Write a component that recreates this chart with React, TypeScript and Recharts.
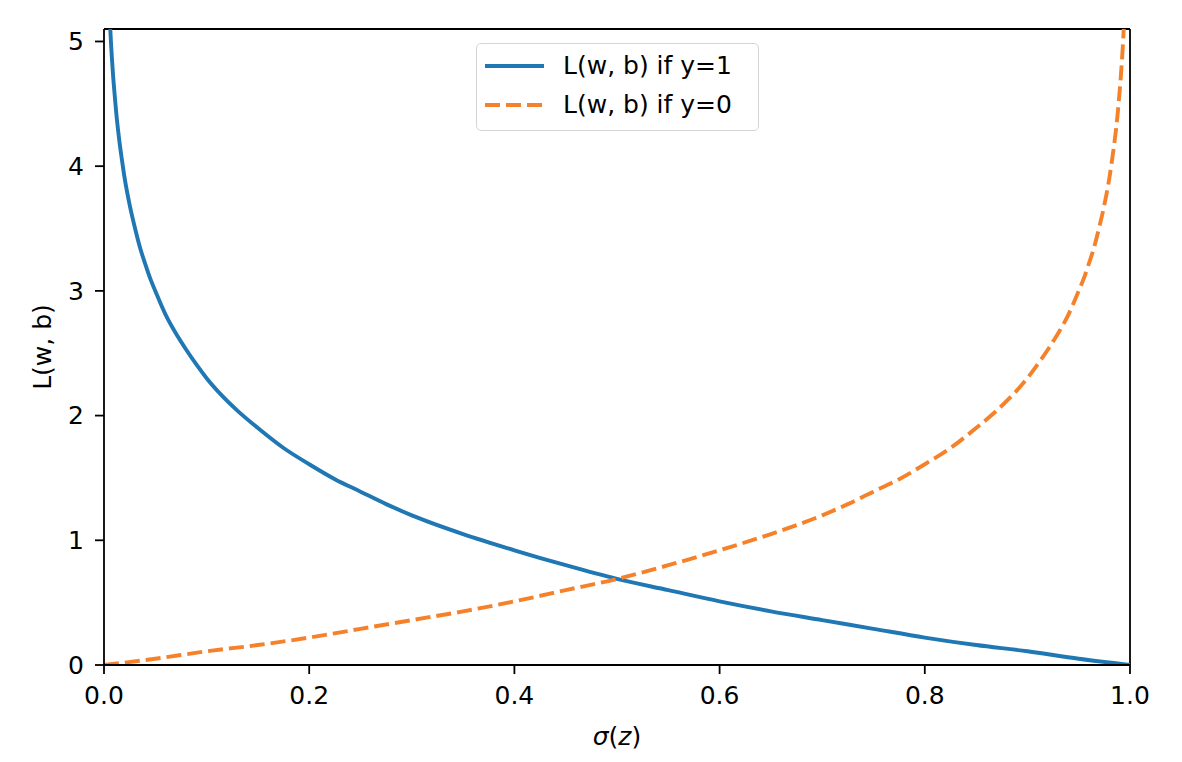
import React from 'react'
import { LineChart, Line, XAxis, YAxis, Legend, ReferenceLine } from 'recharts'

// sigma(z) positions and the loss
const sigmaY1 = [0.006, 0.007, 0.008, 0.009, 0.01, 0.0125, 0.015, 0.0175, 0.02, 0.025, 0.03, 0.035, 0.04, 0.045, 0.05, 0.06, 0.07, 0.08, 0.09, 0.1, 0.115, 0.13, 0.15, 0.175, 0.2, 0.225, 0.25, 0.275, 0.3, 0.35, 0.4, 0.45, 0.5, 0.55, 0.6, 0.65, 0.7, 0.75, 0.8, 0.85, 0.9, 0.95, 1.0]
const lossY1 = [5.12, 4.96, 4.83, 4.71, 4.61, 4.38, 4.2, 4.05, 3.91, 3.69, 3.51, 3.35, 3.22, 3.1, 3.0, 2.81, 2.66, 2.53, 2.41, 2.3, 2.16, 2.04, 1.9, 1.74, 1.61, 1.49, 1.39, 1.29, 1.2, 1.05, 0.92, 0.8, 0.69, 0.6, 0.51, 0.43, 0.36, 0.29, 0.22, 0.16, 0.11, 0.05, 0]

const sigmaY0 = [0, 0.05, 0.1, 0.15, 0.2, 0.25, 0.3, 0.35, 0.4, 0.45, 0.5, 0.55, 0.6, 0.65, 0.7, 0.725, 0.75, 0.775, 0.8, 0.825, 0.85, 0.87, 0.885, 0.9, 0.91, 0.92, 0.93, 0.94, 0.95, 0.955, 0.96, 0.965, 0.97, 0.975, 0.98, 0.9825, 0.985, 0.9875, 0.99, 0.991, 0.992, 0.993, 0.994]
const lossY0 = [0, 0.05, 0.11, 0.16, 0.22, 0.29, 0.36, 0.43, 0.51, 0.6, 0.69, 0.8, 0.92, 1.05, 1.2, 1.29, 1.39, 1.49, 1.61, 1.74, 1.9, 2.04, 2.16, 2.3, 2.41, 2.53, 2.66, 2.81, 3.0, 3.1, 3.22, 3.35, 3.51, 3.69, 3.91, 4.05, 4.2, 4.38, 4.61, 4.71, 4.83, 4.96, 5.12]

const xTicks = [0, 0.2, 0.4, 0.6, 0.8, 1.0]
const yTicks = [0, 1, 2, 3, 4, 5]

const SERIES_NAMES = ['L(w, b) if y=1', 'L(w, b) if y=0']
const BLUE = '#1f77b4'
const ORANGE = '#f5822a'
const FONT = '"DejaVu Sans", sans-serif'
const FS = 25
const Y_MAX = 5.1
const LW = 3.9
const DASH = '15 6'

const dataY1 = sigmaY1.map((s, i) => ({ s, loss: lossY1[i] }))
const dataY0 = sigmaY0.map((s, i) => ({ s, loss: lossY0[i] }))

function LegendBox({ payload }: any) {
  const items = [...(payload || [])].sort(
    (a: any, b: any) => SERIES_NAMES.indexOf(a.value) - SERIES_NAMES.indexOf(b.value)
  )
  return (
    <div style={{
      width: 281, height: 86, border: '1px solid #d5d5d5', borderRadius: 5,
      background: 'rgba(255,255,255,0.8)', fontFamily: FONT, fontSize: FS, color: '#000',
      position: 'relative'
    }}>
      {items.map((p: any, i: number) => (
        <div key={i} style={{ position: 'absolute', left: 0, top: i === 0 ? 6 : 45, height: 32, display: 'flex', alignItems: 'center' }}>
          <svg width={80} height={32} style={{ display: 'block' }}>
            <line x1={8} x2={67} y1={16} y2={16} stroke={p.color}
              strokeWidth={LW} strokeDasharray={p.payload?.strokeDasharray} />
          </svg>
          <span style={{ marginLeft: 6, whiteSpace: 'nowrap', lineHeight: '32px' }}>{p.value}</span>
        </div>
      ))}
    </div>
  )
}

export default function App() {
  const tickStyle = { fontFamily: FONT, fontSize: FS, fill: '#000' }
  return (
    <div style={{ position: 'absolute', left: 0, top: 0, width: 1182, height: 762, background: '#fff' }}>
      <LineChart width={1182} height={762} margin={{ top: 29, right: 52, bottom: 0, left: 0 }}>
        <XAxis
          dataKey="s" type="number" domain={[0, 1]} ticks={xTicks} allowDataOverflow
          tickFormatter={(v: number) => v.toFixed(1)}
          tick={tickStyle} tickSize={9} tickMargin={12} height={97}
          stroke="#000" strokeWidth={1.8} tickLine={{ stroke: '#000', strokeWidth: 1.8 }}
          label={{
            content: (props: any) => {
              const vb = props.viewBox
              return (
                <text x={vb.x + vb.width / 2} y={vb.y + 80} textAnchor="middle"
                  fontFamily={FONT} fontSize={FS} fill="#000">
                  <tspan fontStyle="italic">σ</tspan>(<tspan fontStyle="italic">z</tspan>)
                </text>
              )
            }
          }}
        />
        <YAxis
          type="number" domain={[0, Y_MAX]} ticks={yTicks} allowDataOverflow
          tick={tickStyle} tickSize={9} tickMargin={11} width={104}
          stroke="#000" strokeWidth={1.8} tickLine={{ stroke: '#000', strokeWidth: 1.8 }}
          label={{
            content: (props: any) => {
              const vb = props.viewBox
              const cx = 42
              const cy = vb.y + vb.height / 2
              return (
                <text x={cx} y={cy} textAnchor="middle" dominantBaseline="central"
                  transform={`rotate(-90 ${cx} ${cy})`} fontFamily={FONT} fontSize={FS} fill="#000">
                  L(w, b)
                </text>
              )
            }
          }}
        />
        {/* top and right spines */}
        <ReferenceLine y={Y_MAX} stroke="#000" strokeWidth={1.8} ifOverflow="visible" />
        <ReferenceLine x={1} stroke="#000" strokeWidth={1.8} ifOverflow="visible" />
        <Legend
          layout="horizontal" verticalAlign="middle" align="center"
          wrapperStyle={{ left: 476, top: 43, width: 283, height: 88 }}
          content={<LegendBox />}
        />
        <Line data={dataY1} dataKey="loss" name={SERIES_NAMES[0]} type="monotone" stroke={BLUE}
          strokeWidth={LW} dot={false} isAnimationActive={false} />
        <Line data={dataY0} dataKey="loss" name={SERIES_NAMES[1]} type="monotone" stroke={ORANGE}
          strokeWidth={LW} strokeDasharray={DASH} dot={false} isAnimationActive={false} />
      </LineChart>
    </div>
  )
}
